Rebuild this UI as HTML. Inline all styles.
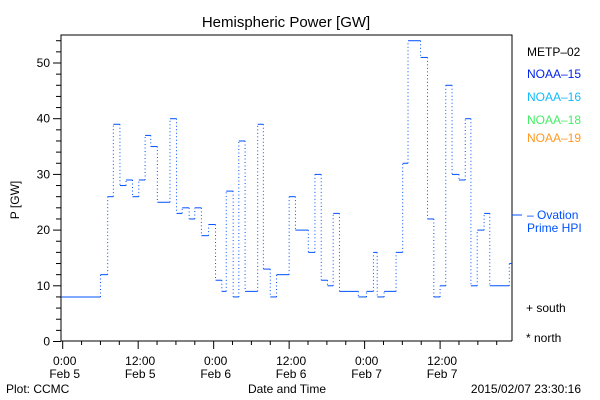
<!DOCTYPE html>
<html><head><meta charset="utf-8"><style>
body{margin:0;background:#fff}
svg{display:block}
text{font-family:"Liberation Sans",sans-serif;font-size:12px}
</style></head><body>
<svg width="600" height="400" xmlns="http://www.w3.org/2000/svg">
<text x="286" y="27" text-anchor="middle" style="font-size:15px">Hemispheric Power [GW]</text>
<g id="axes"></g>
<g id="series"></g>
<text x="19" y="200" transform="rotate(-90 19 200)" text-anchor="middle">P [GW]</text>
<text x="287" y="393" text-anchor="middle">Date and Time</text>
<text x="6" y="393">Plot: CCMC</text>
<text x="581" y="393" text-anchor="end">2015/02/07 23:30:16</text>
<g>
<text x="527" y="56" fill="#000">METP–02</text>
<text x="527" y="78" fill="#0022ee">NOAA–15</text>
<text x="527" y="101" fill="#11bbff">NOAA–16</text>
<text x="527" y="124" fill="#44ee66">NOAA–18</text>
<text x="527" y="142" fill="#ff9922">NOAA–19</text>
<line x1="512" y1="215" x2="522" y2="215" stroke="#0050ff"/>
<text x="527" y="219" fill="#0050ff">– Ovation</text>
<text x="527" y="232" fill="#0050ff">Prime HPI</text>
<text x="526" y="312">+ south</text>
<text x="526" y="342">* north</text>
</g>
</svg>
<script>
const times=[0,6,7.15,8.05,9.1,10.07,11.1,12.1,13.1,14,15.05,17.06,18.1,19,20.1,21,22.05,23.2,24.3,25.3,26,27.1,28,29,31,31.9,33,34,36,37,39.05,40.1,41.1,42.1,43,44,47,48.3,49.4,50,51.1,53,54.05,54.9,56.9,58,59,60,60.9,61.9,63,64,64.9,65.9,67,67.9,71];
const values=[8,12,26,39,28,29,26,29,37,35,25,40,23,24,22,24,19,21,11,9,27,8,36,9,39,13,8,12,26,20,16,30,11,10,23,9,8,9,16,8,9,16,32,54,51,22,8,10,46,30,29,40,10,20,23,10,14];
const yTicks=[0,10,20,30,40,50];
const xTickHours=[0,12,24,36,48,60];
const xTickLabels=[["0:00","Feb 5"],["12:00","Feb 5"],["0:00","Feb 6"],["12:00","Feb 6"],["0:00","Feb 7"],["12:00","Feb 7"]];
const L=61,R=512,T=35,B=341,HMAX=71.7;
const x0=62.7,pxH=6.29;
function xs(h){return x0+h*pxH;}
function ys(v){return 341.5-v*5.57;}
const NS="http://www.w3.org/2000/svg";
function mk(tag,attrs,parent){const e=document.createElementNS(NS,tag);for(const k in attrs)e.setAttribute(k,attrs[k]);parent.appendChild(e);return e;}
const ax=document.getElementById('axes');
let e=mk('polyline',{points:`${L},${B} ${L},${T} ${R},${T} ${R},${B}`,fill:'none',stroke:'#000'},ax);


e=mk('line',{x1:L,y1:B,x2:R,y2:B,stroke:'#000'},ax);


for(let v=0;v<=54;v+=2){
  const maj=v%10===0;
  e=mk('line',{x1:maj?53:56,y1:ys(v),x2:L,y2:ys(v),stroke:'#000'},ax);
  
  
}
yTicks.forEach(v=>{
  e=mk('text',{x:50,y:ys(v)+4,'text-anchor':'end'},ax);e.textContent=v;
  
  
});
for(let h=0;h<=HMAX;h+=3){
  const maj=h%12===0;
  e=mk('line',{x1:xs(h),y1:B,x2:xs(h),y2:maj?349:345,stroke:'#000'},ax);
  
  
}
xTickHours.forEach((h,i)=>{
  e=mk('text',{x:xs(h)+2,y:365,'text-anchor':'middle'},ax);e.textContent=xTickLabels[i][0];
  
  
  e=mk('text',{x:xs(h)+2,y:378,'text-anchor':'middle'},ax);e.textContent=xTickLabels[i][1];
  
  
});
const sg=document.getElementById('series');
for(let i=0;i<times.length;i++){
  const xa=i===0?L:xs(times[i]);
  const xb=i<times.length-1?xs(times[i+1]):R;
  e=mk('line',{x1:xa,y1:ys(values[i]),x2:xb,y2:ys(values[i]),stroke:'#0050ff','stroke-width':1},sg);
  
  
  if(i<times.length-1){
    e=mk('line',{x1:xb,y1:ys(values[i]),x2:xb,y2:ys(values[i+1]),stroke:'#0050ff','stroke-width':1,'stroke-dasharray':'1 2.5'},sg);
    
    
  }
}
</script>
</body></html>
